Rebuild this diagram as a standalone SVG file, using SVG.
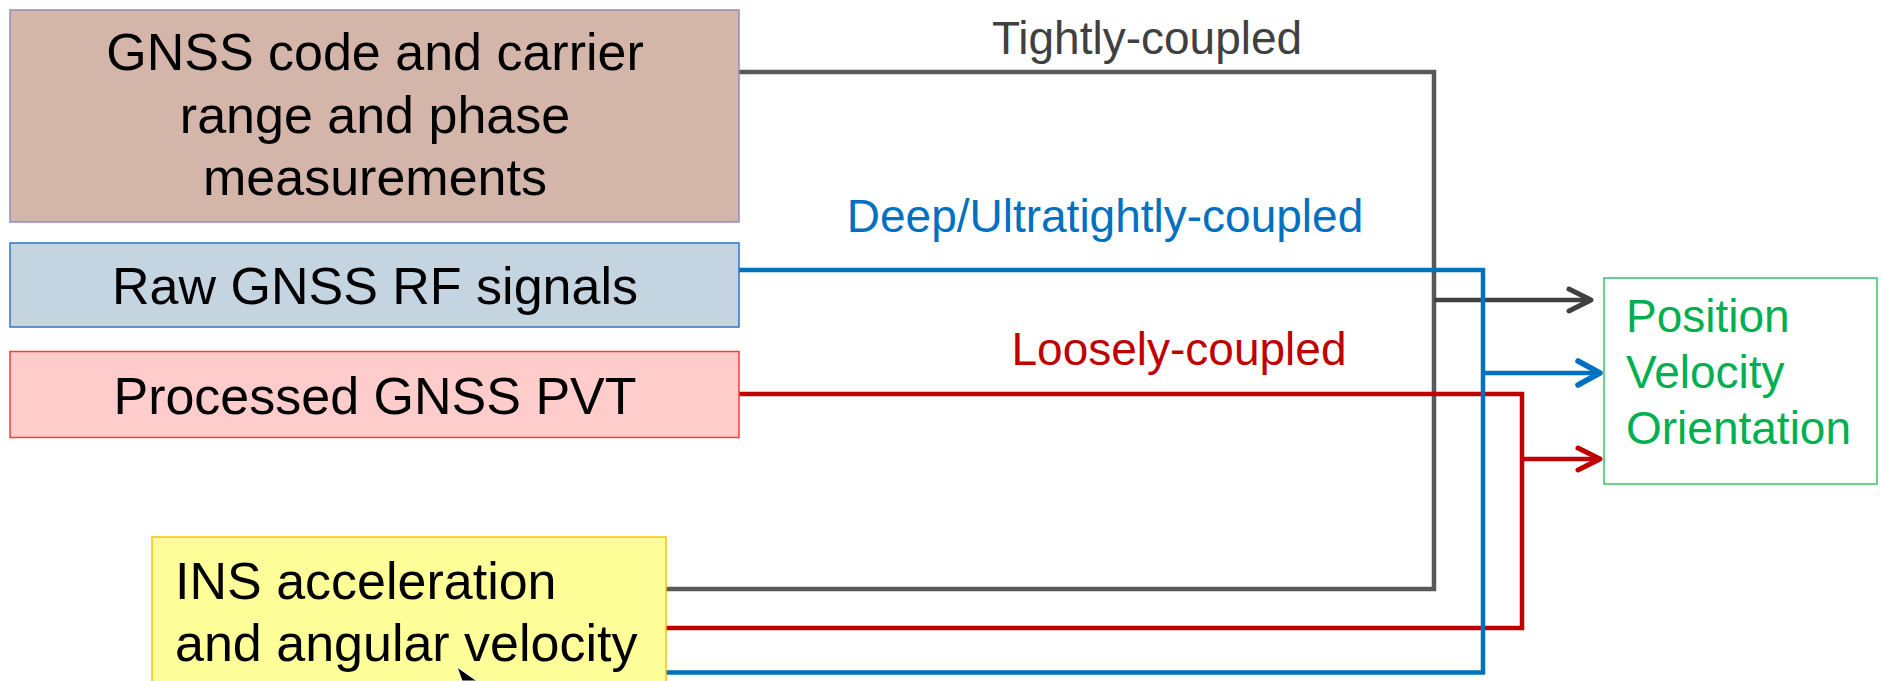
<svg xmlns="http://www.w3.org/2000/svg" width="1882" height="681" viewBox="0 0 1882 681">
<defs>
<style>
.t{font-family:"Liberation Sans",Arial,sans-serif;font-size:52px;fill:#000}
.lbl{font-family:"Liberation Sans",Arial,sans-serif;font-size:46px}
.c{fill:none;stroke-width:4.5;stroke-linejoin:miter}
</style>
<marker id="ag" markerUnits="userSpaceOnUse" markerWidth="40" markerHeight="40" viewBox="-30 -20 40 40" refX="0" refY="0" orient="auto" overflow="visible">
<path d="M-22,-11 L0,0 L-22,11" fill="none" stroke="#404040" stroke-width="5" stroke-linecap="round" stroke-linejoin="round"/>
</marker>
<marker id="ab" markerUnits="userSpaceOnUse" markerWidth="40" markerHeight="40" viewBox="-30 -20 40 40" refX="0" refY="0" orient="auto" overflow="visible">
<path d="M-22,-12 L0,0 L-22,12" fill="none" stroke="#0070C0" stroke-width="5.5" stroke-linecap="round" stroke-linejoin="round"/>
</marker>
<marker id="ar" markerUnits="userSpaceOnUse" markerWidth="40" markerHeight="40" viewBox="-30 -20 40 40" refX="0" refY="0" orient="auto" overflow="visible">
<path d="M-22,-11 L0,0 L-22,11" fill="none" stroke="#C00000" stroke-width="5" stroke-linecap="round" stroke-linejoin="round"/>
</marker>
</defs>
<rect width="1882" height="681" fill="#fff"/>

<g id="connectors">
<path class="c" d="M739,72 H1434 V589 H666" stroke="#595959"/>
<path class="c" d="M1434,300 H1591" stroke="#404040" marker-end="url(#ag)"/>
<path class="c" d="M739,394 H1522 V628 H666" stroke="#C00000" stroke-width="5"/>
<path class="c" d="M1522,459 H1600" stroke="#C00000" marker-end="url(#ar)"/>
<path class="c" d="M739,270 H1483 V672.5 H666" stroke="#0070C0"/>
<path class="c" d="M1483,373 H1600" stroke="#0070C0" stroke-width="5" marker-end="url(#ab)"/>
<text class="lbl" x="1147" y="54" text-anchor="middle" fill="#404040">Tightly-coupled</text>
<text class="lbl" x="1105" y="232" text-anchor="middle" fill="#0070C0">Deep/Ultratightly-coupled</text>
<text class="lbl" x="1179" y="365" text-anchor="middle" fill="#C00000">Loosely-coupled</text>
</g>

<g id="gnss-measurements">
<rect x="10" y="10" width="729" height="212" fill="#D4B5A9" stroke="#8E8EBE" stroke-width="1.5"/>
<text class="t" x="375" y="70" text-anchor="middle">GNSS code and carrier</text>
<text class="t" x="375" y="132.5" text-anchor="middle">range and phase</text>
<text class="t" x="375" y="195" text-anchor="middle">measurements</text>
</g>

<g id="raw-rf">
<rect x="10" y="243" width="729" height="84" fill="#C4D4E1" stroke="#2E75C6" stroke-width="1.5"/>
<text class="t" x="375" y="304" text-anchor="middle">Raw GNSS RF signals</text>
</g>

<g id="processed-pvt">
<rect x="10" y="351.5" width="729" height="86" fill="#FFCCCC" stroke="#FF3B3B" stroke-width="1.5"/>
<text class="t" x="375" y="414" text-anchor="middle">Processed GNSS PVT</text>
</g>

<g id="ins">
<rect x="152" y="537" width="514" height="170" fill="#FFFF99" stroke="#FFC000" stroke-width="1.5"/>
<text class="t" x="175" y="599" >INS acceleration</text>
<text class="t" x="175" y="661">and angular velocity</text>
</g>

<g id="output">
<rect x="1604" y="278" width="273" height="206" fill="#fff" stroke="#33C46A" stroke-width="1.5"/>
<text class="lbl" x="1626" y="332" fill="#00B050">Position</text>
<text class="lbl" x="1626" y="388" fill="#00B050">Velocity</text>
<text class="lbl" x="1626" y="444" fill="#00B050">Orientation</text>
</g>

<polygon points="457,667 462,681 477,681" fill="#000" stroke="#fff" stroke-width="1"/>
</svg>
